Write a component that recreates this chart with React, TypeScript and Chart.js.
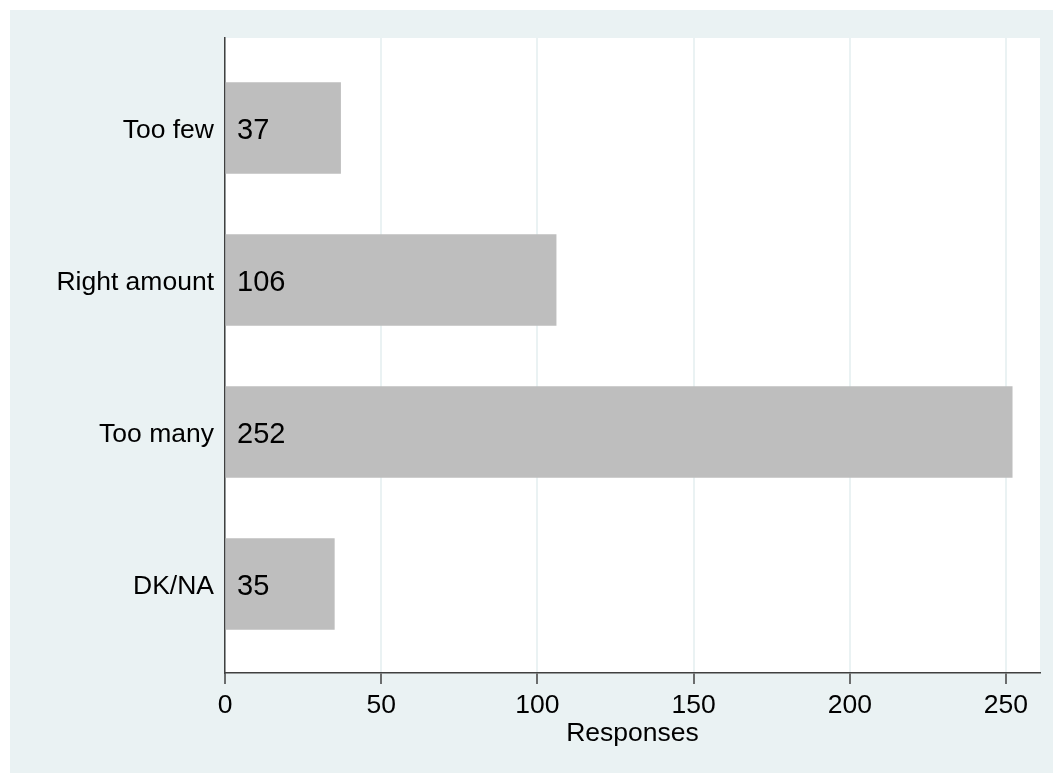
import React, { useEffect, useRef } from "react";
import { Chart, registerables } from "chart.js";

Chart.register(...registerables);

const categories = ["Too few", "Right amount", "Too many", "DK/NA"];
const responses = [37, 106, 252, 35];
const xTicks = [0, 50, 100, 150, 200, 250];
const xTitle = "Responses";

const FONT = "'Liberation Sans', Arial, Helvetica, sans-serif";
const BG = "#EAF2F3";
const AXIS = "#404040";

export default function App() {
  const ref = useRef<HTMLCanvasElement | null>(null);

  useEffect(() => {
    if (!ref.current) return;
    const bgPlugin = {
      id: "bgPlugin",
      beforeDraw(chart: any) {
        const { ctx, width, height, chartArea } = chart;
        ctx.save();
        ctx.fillStyle = "#ffffff";
        ctx.fillRect(0, 0, width, height);
        ctx.fillStyle = BG;
        ctx.fillRect(10, 10, width - 10, height - 10);
        ctx.fillStyle = "#ffffff";
        ctx.fillRect(chartArea.left, chartArea.top, chartArea.right - chartArea.left, chartArea.bottom - chartArea.top);
        ctx.restore();
      },
    };
    const valuePlugin = {
      id: "valuePlugin",
      afterDatasetsDraw(chart: any) {
        const { ctx } = chart;
        const meta = chart.getDatasetMeta(0);
        ctx.save();
        ctx.fillStyle = "#000000";
        ctx.font = `29px ${FONT}`;
        ctx.textAlign = "left";
        ctx.textBaseline = "middle";
        meta.data.forEach((bar: any, i: number) => {
          ctx.fillText(String(responses[i]), bar.base + 11, bar.y + 3);
        });
        ctx.restore();
      },
    };
    const chart = new Chart(ref.current, {
      type: "bar",
      data: {
        datasets: [
          {
            data: responses.map((v, i) => ({ x: v, y: i })),
            backgroundColor: "#BEBEBE",
            borderWidth: 0,
            barThickness: 91,
          },
        ],
      },
      options: {
        indexAxis: "y",
        animation: false,
        responsive: false,
        maintainAspectRatio: false,
        layout: { padding: { left: 0, top: 38, right: 13, bottom: 0 } },
        plugins: { legend: { display: false }, tooltip: { enabled: false } },
        scales: {
          x: {
            type: "linear",
            position: "bottom",
            min: 0,
            max: 260.9,
            offset: false,
            afterBuildTicks: (scale: any) => {
              scale.ticks = xTicks.map((v) => ({ value: v }));
            },
            afterFit: (scale: any) => {
              scale.height = 100;
            },
            grid: {
              color: BG,
              lineWidth: 2,
              offset: false,
              drawTicks: true,
              tickLength: 11,
              tickColor: AXIS,
              tickWidth: 1.5,
            },
            border: { display: true, color: AXIS, width: 1.5 },
            ticks: {
              color: "#000000",
              font: { family: FONT, size: 26.5 },
              padding: 6,
              maxRotation: 0,
              autoSkip: false,
            },
            title: {
              display: true,
              text: xTitle,
              color: "#000000",
              font: { family: FONT, size: 26.5 },
              padding: { top: 0, bottom: 23 },
            },
          },
          y: {
            type: "linear",
            position: "left",
            reverse: true,
            offset: false,
            min: -0.5921,
            max: 3.5855,
            afterBuildTicks: (scale: any) => {
              scale.ticks = categories.map((_, i) => ({ value: i }));
            },
            afterFit: (scale: any) => {
              scale.width = 225;
            },
            grid: { display: false, drawTicks: false, offset: false },
            border: { display: true, color: AXIS, width: 1.5 },
            ticks: {
              color: "#000000",
              font: { family: FONT, size: 26.5 },
              padding: 11,
              labelOffset: 3,
              autoSkip: false,
              callback: (v: any) => categories[Number(v)] ?? "",
            },
          },
        },
      },
      plugins: [bgPlugin, valuePlugin],
    });
    return () => chart.destroy();
  }, []);

  return (
    <div style={{ position: "absolute", left: 0, top: 0, width: 1053, height: 773 }}>
      <canvas ref={ref} width={1053} height={773} style={{ width: 1053, height: 773, display: "block" }} />
    </div>
  );
}
